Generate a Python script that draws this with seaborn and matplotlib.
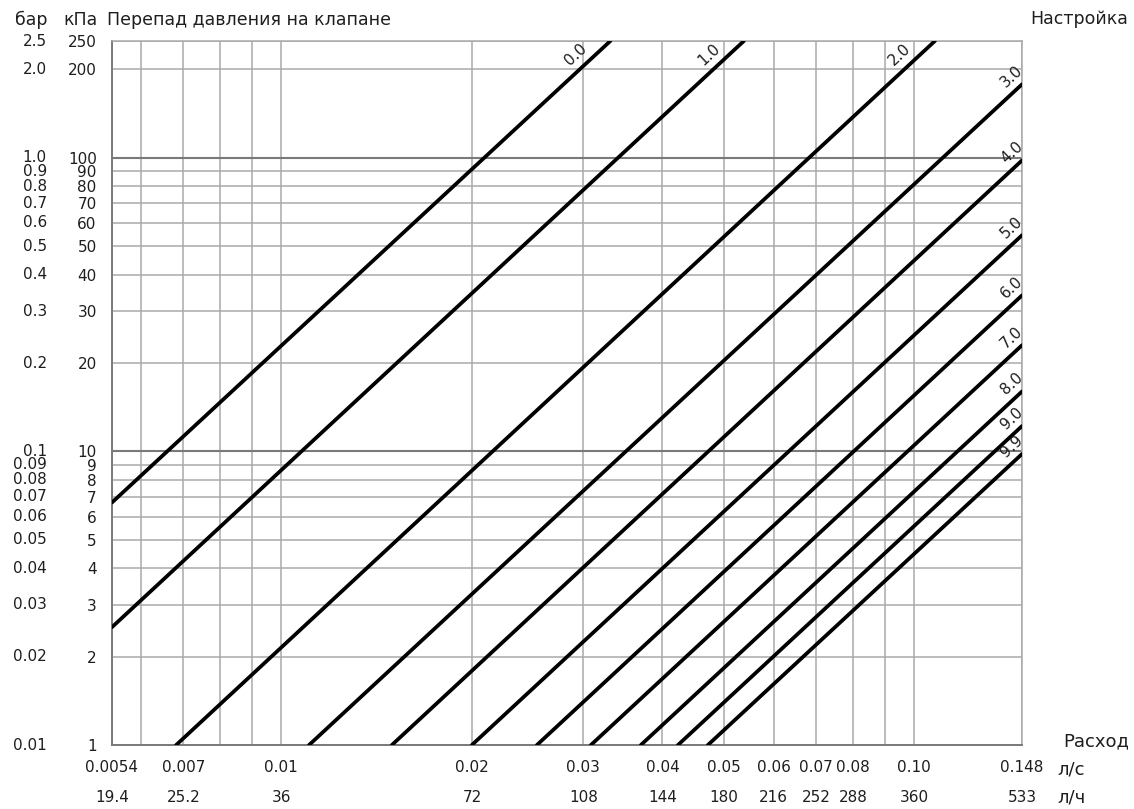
import pandas as pd
import matplotlib.pyplot as plt
import matplotlib.transforms as mtransforms
import seaborn as sns

# valve settings and the visible segment of each curve (flow l/s, pressure drop kPa)
settings = ['0.0', '1.0', '2.0', '3.0', '4.0', '5.0', '6.0', '7.0', '8.0', '9.0', '9.9']
q_start = [0.0054, 0.0054, 0.00682, 0.01106, 0.01495, 0.0200, 0.02534, 0.03084, 0.03699, 0.04233, 0.0472]
dp_start = [6.7, 2.52, 1, 1, 1, 1, 1, 1, 1, 1, 1]
q_end = [0.0331, 0.0538, 0.1078, 0.148, 0.148, 0.148, 0.148, 0.148, 0.148, 0.148, 0.148]
dp_end = [250, 250, 250, 178, 98, 54.5, 34, 23, 16.0, 12.2, 9.8]

q_ticks = [0.0054, 0.006, 0.007, 0.008, 0.009, 0.01, 0.02, 0.03, 0.04, 0.05,
           0.06, 0.07, 0.08, 0.09, 0.10, 0.148]
ls_labels = ['0.0054', '', '0.007', '', '', '0.01', '0.02', '0.03', '0.04', '0.05',
             '0.06', '0.07', '0.08', '', '0.10', '0.148']
lh_labels = ['19.4', '', '25.2', '', '', '36', '72', '108', '144', '180',
             '216', '252', '288', '', '360', '533']

kpa_ticks = [1, 2, 3, 4, 5, 6, 7, 8, 9, 10, 20, 30, 40, 50, 60, 70, 80, 90, 100, 200, 250]
kpa_labels = ['1', '2', '3', '4', '5', '6', '7', '8', '9', '10', '20', '30', '40', '50',
              '60', '70', '80', '90', '100', '200', '250']
bar_labels = ['0.01', '0.02', '0.03', '0.04', '0.05', '0.06', '0.07', '0.08', '0.09', '0.1',
              '0.2', '0.3', '0.4', '0.5', '0.6', '0.7', '0.8', '0.9', '1.0', '2.0', '2.5']

rows = []
for s, q0, p0, q1, p1 in zip(settings, q_start, dp_start, q_end, dp_end):
    rows.append({'setting': s, 'q': q0, 'dp': p0})
    rows.append({'setting': s, 'q': q1, 'dp': p1})
df = pd.DataFrame(rows)

sns.set_style('white')
plt.rcParams['font.family'] = ['DejaVu Sans']
plt.rcParams['text.color'] = '#1e1e1e'
plt.rcParams['xtick.labelcolor'] = '#1e1e1e'
plt.rcParams['ytick.labelcolor'] = '#1e1e1e'

fig = plt.figure(figsize=(11.34, 8.09), dpi=100)
ax = fig.add_axes([112 / 1134, 1 - 745 / 809, 910 / 1134, 704 / 809])

grid_c = '#a9a9a9'
dark_c = '#7a7a7a'
fs = 11

ax.set_xscale('log')
ax.set_yscale('log')

for q in q_ticks:
    ax.axvline(q, color=grid_c, lw=1.1, zorder=1)
for p in kpa_ticks:
    heavy = p in (10, 100)
    ax.axhline(p, color=dark_c if heavy else grid_c, lw=1.5 if heavy else 1.1, zorder=1)

sns.lineplot(data=df, x='q', y='dp', units='setting', estimator=None,
             color='black', linewidth=2.7, legend=False, ax=ax, zorder=3)

ax.set_xlim(0.0054, 0.148)
ax.set_ylim(1, 250)
ax.set_xlabel('')
ax.set_ylabel('')

ax.set_xticks(q_ticks, labels=ls_labels)
ax.set_xticks([], minor=True)
ax.tick_params(axis='x', which='major', length=6, width=1.1, color=dark_c,
               pad=5, labelsize=fs, direction='out')

ax.set_yticks(kpa_ticks, labels=kpa_labels)
ax.set_yticks([1, 10, 100], labels=['', '', ''], minor=True)
ax.tick_params(axis='y', which='major', length=0, pad=11, labelsize=fs)
ax.tick_params(axis='y', which='minor', length=9, width=1.4, color=dark_c, direction='out')

for side in ['left', 'bottom']:
    ax.spines[side].set_color(dark_c)
    ax.spines[side].set_linewidth(1.4)
for side in ['top', 'right']:
    ax.spines[side].set_color(grid_c)
    ax.spines[side].set_linewidth(1.1)

# bar column next to kPa
ytrans = mtransforms.blended_transform_factory(ax.transAxes, ax.transData)
for p, lab in zip(kpa_ticks, bar_labels):
    ax.text(-0.0715, p, lab, transform=ytrans, ha='right', va='center', fontsize=fs)

# l/h row under l/s
xtrans = mtransforms.blended_transform_factory(ax.transData, ax.transAxes)
for q, lab in zip(q_ticks, lh_labels):
    if lab:
        ax.text(q, -0.074, lab, transform=xtrans, ha='center', va='center', fontsize=fs)

# setting labels along the curves
for s, q1, p1 in zip(settings, q_end, dp_end):
    if p1 >= 250:
        off = (-35, -13)
    else:
        off = (-10, 8)
    ax.annotate(s, xy=(q1, p1), xytext=off, textcoords='offset pixels',
                rotation=43, ha='center', va='center', fontsize=fs, zorder=4)

fig.text(47 / 1134, 1 - 25 / 809, 'бар', ha='right', va='baseline', fontsize=12.5)
fig.text(98 / 1134, 1 - 25 / 809, 'кПа', ha='right', va='baseline', fontsize=12.5)
fig.text(107 / 1134, 1 - 25 / 809, 'Перепад давления на клапане', ha='left', va='baseline', fontsize=12.5)
fig.text(1128 / 1134, 1 - 24 / 809, 'Настройка', ha='right', va='baseline', fontsize=12.5)
fig.text(1129 / 1134, 1 - 746 / 809, 'Расход', ha='right', va='baseline', fontsize=13)
fig.text(1057 / 1134, 1 - 775 / 809, 'л/с', ha='left', va='baseline', fontsize=13)
fig.text(1057 / 1134, 1 - 803 / 809, 'л/ч', ha='left', va='baseline', fontsize=13)

fig.savefig('out.png', dpi=100)
plt.close(fig)
